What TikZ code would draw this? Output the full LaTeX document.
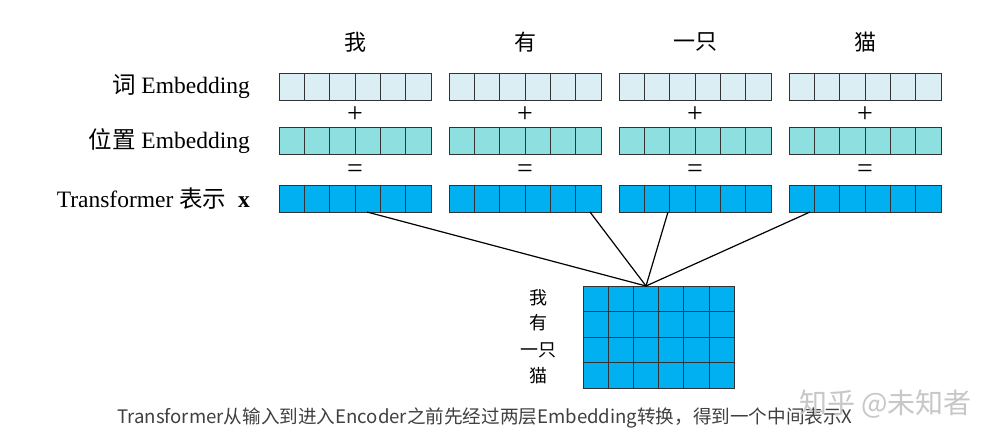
\documentclass[tikz,border=0pt]{standalone}
\usepackage{fontspec}
\setmainfont{Liberation Serif}
\newfontfamily\cjk{Noto Sans CJK SC}
\begin{document}
\begin{tikzpicture}[x=1pt,y=-1pt,
  lbl/.style={font=\fontsize{23.5}{26}\selectfont,anchor=east,inner sep=0},
  word/.style={font=\cjk\fontsize{22}{24}\selectfont,inner sep=0},
  op/.style={font=\fontsize{28}{28}\selectfont,inner sep=0}]
\definecolor{c1}{HTML}{DAEEF3}\definecolor{c2}{HTML}{8EDFE0}\definecolor{c3}{HTML}{00B0F0}
\useasboundingbox (0,0) rectangle (996,445);
\fill[white] (0,0) rectangle (996,445);
\foreach \g/\w [count=\i] in {279/我,449/有,619/一只,789/猫}{
  \node[word] (w\i) at (\g+76,42) {\w};
  \foreach \c/\ya/\yb in {c1/73/100,c2/127/154,c3/185/212}{
    \foreach \k in {0,...,5}
      \draw[fill=\c,draw=black!80,line width=0.6pt] (\g+\k*25.33,\ya) rectangle ++(25.33,\yb-\ya);
  }
  \node[op] (p\i) at (\g+76,115) {+};
  \node[op] (e\i) at (\g+76,171) {=};
}
\node[lbl] (l1) at (250,87) {{\cjk 词} Embedding};
\node[lbl] (l2) at (250,141) {{\cjk 位置} Embedding};
\node[lbl] (l3) at (250,199) {Transformer {\cjk 表示}\ \ \textbf{x}};
\foreach \r in {0,...,3}\foreach \k in {0,...,5}
  \draw[fill=c3,draw=black!80,line width=0.6pt] (583+\k*25.17,286+\r*25.5) rectangle ++(25.17,25.5);
\coordinate (m) at (646,286);
\coordinate (s1) at (367,212);\coordinate (s2) at (590,212);
\coordinate (s3) at (668,212);\coordinate (s4) at (810,212);
\foreach \i in {1,...,4} \draw[line width=1.2pt] (s\i) -- (m);
\foreach \w/\y [count=\i] in {我/298,有/323,一只/350,猫/376}
  \node[word,font=\cjk\fontsize{18}{20}\selectfont] (r\i) at (538,\y) {\w};
\node[font=\cjk\fontsize{18.6}{20}\selectfont,text=black!75,inner sep=0] (cap) at (485,418) {Transformer从输入到进入Encoder之前先经过两层Embedding转换，得到一个中间表示X};
\node[font=\cjk\fontsize{28}{30}\selectfont,text=black!22,inner sep=0,anchor=east] (wm) at (972,404) {知乎 @未知者};
\end{tikzpicture}
\end{document}
